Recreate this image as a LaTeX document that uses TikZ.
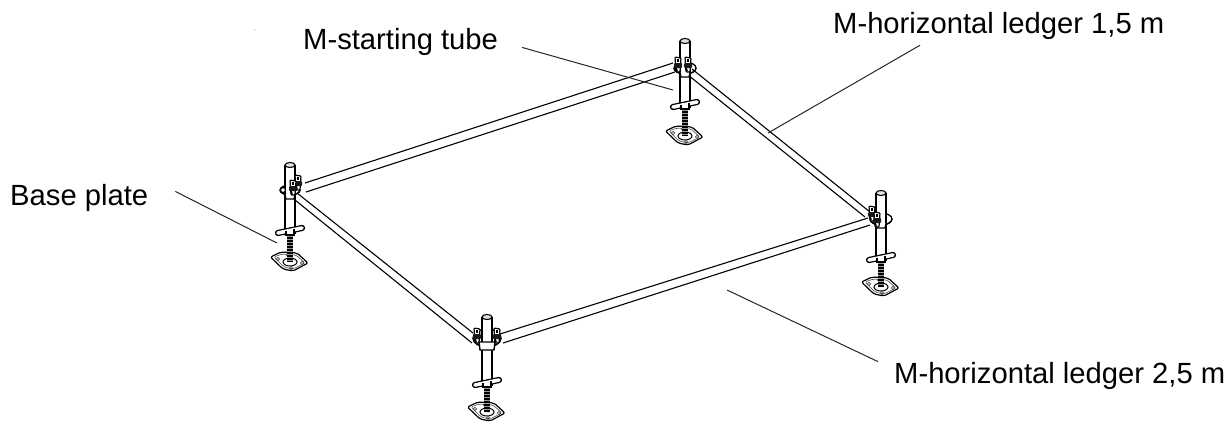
\documentclass[tikz,border=0pt]{standalone}
\usepackage{fontspec}
\setmainfont{Liberation Sans}
\usetikzlibrary{calc,positioning}

\tikzset{
  tubeline/.style={line width=1.1pt},
  ledgerline/.style={line width=1.1pt},
  leaderline/.style={line width=1pt,black!85},
  lbl/.style={anchor=base west,inner sep=0pt,font=\fontsize{29.2}{30}\selectfont}
}

% one wedge of a clamp
\newcommand{\clampwedge}[2]{
  \draw[line width=1.2pt,fill=white,rounded corners=1pt] (#1-3,#2) -- ++(6,1) -- ++(-1,14) -- ++(-4,0) -- cycle;
  \fill[black!90,rounded corners=1pt] (#1-4,#2+6) rectangle ++(8,5);
  \draw[line width=1.6pt] (#1,#2+2) -- ++(0,3);
  \draw[line width=1.6pt] (#1-2,#2+11) -- ++(1,3);
}

\begin{document}
\begin{tikzpicture}[x=1pt,y=-1pt]
\useasboundingbox (0,0) rectangle (1226,421);

% Ledgers
\foreach \ax/\ay/\bx/\by in {305/183/673/63, 306/192/675/72, 692/69/870/212, 688/75/865/217,
  500/334/868/218, 503/343/870/225, 297/193/473/333, 295/200/472/343}{
\draw[ledgerline] (\ax,\ay) -- (\bx,\by);
}

% Posts
\foreach \xx/\yy/\cc/\hh/\pp/\rr/\ss in {290/165/25/65/97/10/5, 685/41/27/63/95/11/6, 881/193/26/64/94/11/6, 487/317/21/65/95/14/9}{
\begin{scope}[shift={(\xx,\yy)}]
% base plate
\draw[line width=1.2pt,fill=white,rounded corners=2pt] (-19.5,\pp-5) -- (-9,\pp-10) -- (7,\pp-9) -- (18,\pp+1) -- (3,\pp+9) -- (-7,\pp+7) -- cycle;
\draw[line width=.6pt,black!70,rounded corners=2pt] (-16,\pp-5) -- (-8,\pp-8) -- (6,\pp-7) -- (15,\pp+1) -- (3,\pp+7) -- (-6,\pp+5) -- cycle;
\draw[line width=1pt] (0,\pp) ellipse (7pt and 4pt);
\foreach \qx/\qy in {-12/-3, 12/1, 1/6, -2/-7}{
\draw[line width=.7pt,black!70] (\qx,\pp+\qy) circle (1.6pt);
}
% threaded rod
\draw[line width=6.5pt,black] (0,\hh+3) -- (0,\pp);
\draw[line width=6.5pt,black!40,dash pattern=on .7pt off 2.3pt] (0,\hh+3) -- (0,\pp);
% clamp ring, back part
\draw[line width=1.3pt] (0,\cc) ellipse (\rr pt and \ss pt);
% tube
\draw[tubeline,fill=white] (-5,0) -- (-5,\hh+3) -- (5,\hh+3) -- (5,0);
\draw[tubeline,fill=black!12] (0,0) ellipse (5pt and 2.5pt);
% handle
\draw[line width=1.3pt,double=white,double distance=3.6pt,line cap=round] (-12,\hh+3) -- (12,\hh-2);
\draw[tubeline,fill=white] (-4,\hh+.5) -- (-4,\hh+5) -- (4,\hh+5) -- (4,\hh-1);
% clamp ring, front part
\draw[line width=1.3pt] (-\rr,\cc) arc (180:360:\rr pt and \ss pt);
\draw[line width=1.2pt,fill=white] (-5,\cc+4) -- (-4,\cc+9) -- (4,\cc+9) -- (5,\cc+4);
\end{scope}
}

% Clamp wedges
\foreach \qx/\qy in {298/175, 293/180, 678/57, 688/57, 872/206, 877/212, 477/328, 497/328}{
\clampwedge{\qx}{\qy}
}
\draw[line width=1.2pt,fill=white] (283,190) circle (2.5pt);
\draw[line width=1.4pt,fill=white] (479,342) -- (495,342) -- (494,350) -- (480,350) -- cycle;

% Labels
\node[lbl] (nStart) at (303,49) {M-starting tube};
\node[lbl] (nLedgerA) at (833,33) {M-horizontal ledger 1,5 m};
\node[lbl] (nBase) at (10,205) {Base plate};
\node[lbl] (nLedgerB) at (894,383) {M-horizontal ledger 2,5 m};

% Leaders
\coordinate (tStart) at (673,90);
\coordinate (tLedgerA) at (768,133);
\coordinate (tBase) at (277,243);
\coordinate (tLedgerB) at (727,290);
\draw[leaderline] ([shift={(24,6)}]nStart.east) -- (tStart);
\draw[leaderline] ([shift={(87,6)}]nLedgerA.south west) -- (tLedgerA);
\draw[leaderline] ([shift={(27,-6)}]nBase.east) -- (tBase);
\draw[leaderline] ([shift={(-16,0)}]nLedgerB.north west) -- (tLedgerB);

% stray speck
\fill (254.7,30) circle (.4pt);
\end{tikzpicture}
\end{document}
